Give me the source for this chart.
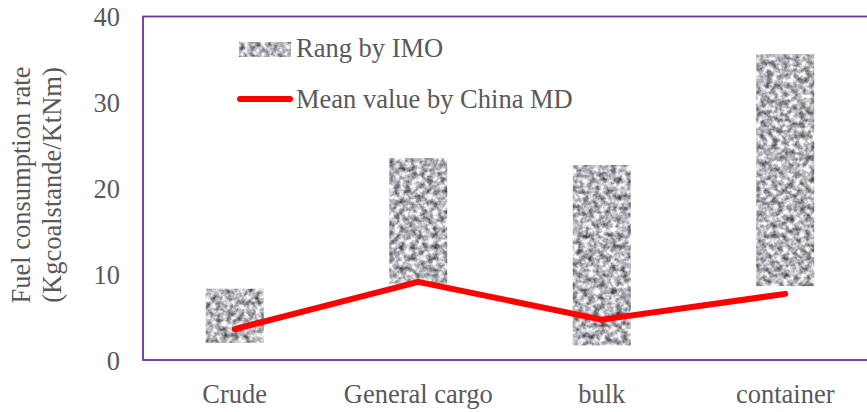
<!DOCTYPE html>
<html>
<head>
<meta charset="utf-8">
<script src="https://cdn.jsdelivr.net/npm/d3@7"></script>
<style>
  body { margin: 0; background: #fff; }
  svg { display: block; font-family: "Liberation Serif", "Times New Roman", serif; }
</style>
</head>
<body>
<div id="chart"></div>
<script>
const categories = ["Crude", "General cargo", "bulk", "container"];
const imoLow = [2.0, 8.9, 1.7, 8.6];
const imoHigh = [8.3, 23.5, 22.7, 35.6];
const chinaMean = [3.6, 9.1, 4.7, 7.7];
const yTicks = [0, 10, 20, 30, 40];

const width = 867;
const height = 412;
const margin = { top: 16.5, right: -10, bottom: 52, left: 143 };
const textColor = "#595959";

const svg = d3
  .select("#chart")
  .append("svg")
  .attr("width", width)
  .attr("height", height);

// grey speckle texture like the original picture fill
const defs = svg.append("defs");
const filter = defs
  .append("filter")
  .attr("id", "speckle")
  .attr("x", 0)
  .attr("y", 0)
  .attr("width", 1)
  .attr("height", 1)
  .attr("color-interpolation-filters", "sRGB");
filter
  .append("feTurbulence")
  .attr("type", "fractalNoise")
  .attr("baseFrequency", 0.18)
  .attr("numOctaves", 3)
  .attr("seed", 7)
  .attr("result", "noise");
filter
  .append("feColorMatrix")
  .attr("in", "noise")
  .attr("type", "matrix")
  .attr("values", "1.25 0 0 0 0.08  1.25 0 0 0 0.08  1.25 0 0 0 0.1  0 0 0 0 1")
  .attr("result", "grey");
filter
  .append("feGaussianBlur")
  .attr("in", "grey")
  .attr("stdDeviation", 0.7)
  .attr("result", "soft");
filter
  .append("feComposite")
  .attr("in", "soft")
  .attr("in2", "SourceGraphic")
  .attr("operator", "in");

const x = d3
  .scaleBand()
  .domain(categories)
  .range([margin.left, width - margin.right])
  .paddingInner(0.684)
  .paddingOuter(0.342);

const y = d3
  .scaleLinear()
  .domain([0, 40])
  .range([height - margin.bottom, margin.top]);

const rows = categories.map((c, i) => ({
  cat: c,
  low: imoLow[i],
  high: imoHigh[i],
  mean: chinaMean[i]
}));

// plot frame
svg
  .append("rect")
  .attr("x", margin.left)
  .attr("y", y(40))
  .attr("width", width - margin.right - margin.left)
  .attr("height", y(0) - y(40))
  .attr("fill", "none")
  .attr("stroke", "#7030A0")
  .attr("stroke-width", 1.8);

// y tick labels
svg
  .append("g")
  .selectAll("text")
  .data(yTicks)
  .join("text")
  .attr("x", 120)
  .attr("y", (d) => y(d))
  .attr("dy", "0.36em")
  .attr("text-anchor", "end")
  .attr("font-size", 26.5)
  .attr("fill", textColor)
  .text((d) => d);

// y title, two lines
const yTitle = svg
  .append("text")
  .attr("transform", `translate(0, 185) rotate(-90)`)
  .attr("text-anchor", "middle")
  .attr("font-size", 26.5)
  .attr("fill", textColor);
yTitle.append("tspan").attr("x", 0).attr("y", 30).text("Fuel consumption rate");
yTitle.append("tspan").attr("x", 0).attr("y", 61).text("(Kgcoalstande/KtNm)");

// x labels
svg
  .append("g")
  .selectAll("text")
  .data(categories)
  .join("text")
  .attr("x", (d) => x(d) + x.bandwidth() / 2)
  .attr("y", 403)
  .attr("text-anchor", "middle")
  .attr("font-size", 26.5)
  .attr("fill", textColor)
  .text((d) => d);

// floating IMO range bars
svg
  .append("g")
  .selectAll("rect")
  .data(rows)
  .join("rect")
  .attr("x", (d) => x(d.cat))
  .attr("y", (d) => y(d.high))
  .attr("width", x.bandwidth())
  .attr("height", (d) => y(d.low) - y(d.high))
  .attr("fill", "#999")
  .attr("filter", "url(#speckle)");

// China MD mean line
const line = d3
  .line()
  .x((d) => x(d.cat) + x.bandwidth() / 2)
  .y((d) => y(d.mean));

svg
  .append("path")
  .datum(rows)
  .attr("d", line)
  .attr("fill", "none")
  .attr("stroke", "#FF0000")
  .attr("stroke-width", 6)
  .attr("stroke-linecap", "round")
  .attr("stroke-linejoin", "round");

// legend
const legend = svg.append("g");
legend
  .append("rect")
  .attr("x", 239)
  .attr("y", 42)
  .attr("width", 52)
  .attr("height", 15)
  .attr("fill", "#999")
  .attr("filter", "url(#speckle)");
legend
  .append("text")
  .attr("x", 296)
  .attr("y", 57)
  .attr("font-size", 26.5)
  .attr("fill", textColor)
  .text("Rang by IMO");
legend
  .append("line")
  .attr("x1", 240)
  .attr("x2", 290)
  .attr("y1", 99)
  .attr("y2", 99)
  .attr("stroke", "#FF0000")
  .attr("stroke-width", 6)
  .attr("stroke-linecap", "round");
legend
  .append("text")
  .attr("x", 296)
  .attr("y", 108)
  .attr("font-size", 26.5)
  .attr("fill", textColor)
  .text("Mean value by China MD");
</script>
</body>
</html>
